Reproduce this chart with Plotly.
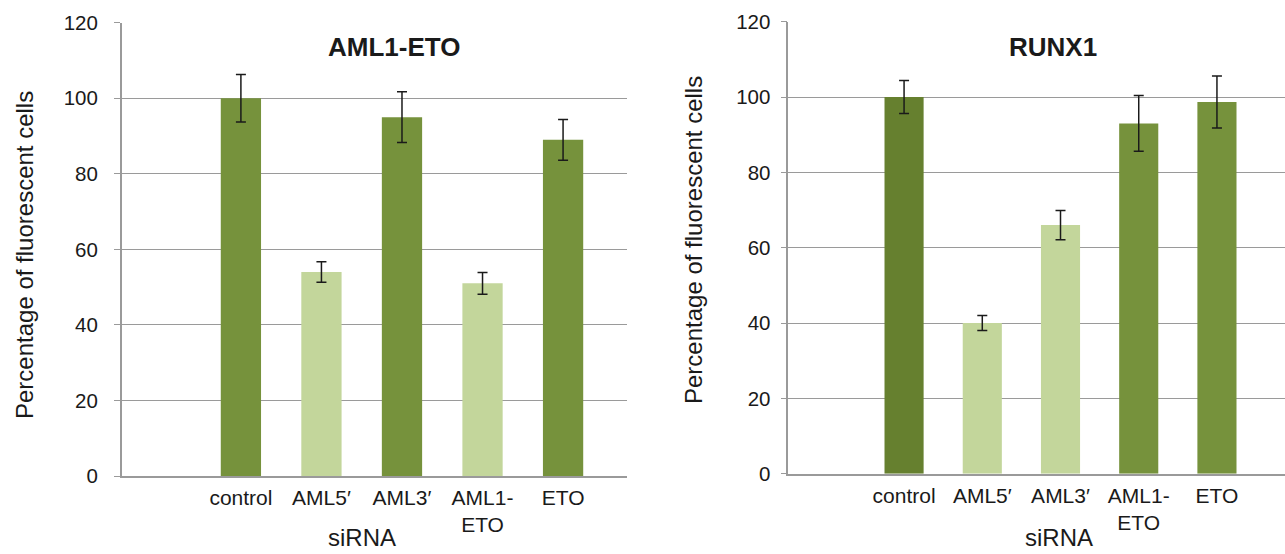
import plotly.graph_objects as go

# siRNA treatments (a blank leading slot keeps the first bar off the axis)
categories = [" ", "control", "AML5′", "AML3′", "AML1-<br>ETO", "ETO"]
bar_cats = categories[1:]

# Percentage of fluorescent cells, AML1-ETO reporter
aml_values = [100, 54, 95, 51, 89]
aml_errors = [6.3, 2.7, 6.7, 2.9, 5.4]

# Percentage of fluorescent cells, RUNX1 reporter
runx_values = [100, 40, 66, 93, 98.7]
runx_errors = [4.4, 2.0, 3.9, 7.4, 6.9]

y_ticks = [0, 20, 40, 60, 80, 100, 120]

DARK = "#76923C"
LIGHT = "#C3D69B"
CONTROL_RUNX = "#66802F"
aml_colors = [DARK, LIGHT, DARK, LIGHT, DARK]
runx_colors = [CONTROL_RUNX, LIGHT, LIGHT, DARK, DARK]

FONT = "Liberation Sans, Arial, sans-serif"
GRID = "#9A9A9A"
W, H = 1285, 554

fig = go.Figure()

err_style = dict(type="data", visible=True, color="#1a1a1a", thickness=1.5, width=5)

fig.add_trace(go.Bar(
    x=bar_cats, y=aml_values, width=0.5,
    marker=dict(color=aml_colors, line=dict(width=0)),
    error_y=dict(array=aml_errors, **err_style),
    xaxis="x", yaxis="y", showlegend=False,
))
fig.add_trace(go.Bar(
    x=bar_cats, y=runx_values, width=0.5,
    marker=dict(color=runx_colors, line=dict(width=0)),
    error_y=dict(array=runx_errors, **err_style),
    xaxis="x2", yaxis="y2", showlegend=False,
))


def xaxis_style(domain, rng):
    return dict(
        domain=domain, type="category", categoryorder="array",
        categoryarray=categories, range=rng, automargin=False,
        showgrid=False, showline=True, linecolor=GRID, linewidth=1.5,
        ticks="", tickfont=dict(family=FONT, size=21, color="#1a1a1a"),
        ticklabelstandoff=2, fixedrange=True,
    )


def yaxis_style(domain, anchor, standoff):
    return dict(
        domain=domain, anchor=anchor, range=[0, 120], automargin=False,
        tickvals=y_ticks, showgrid=True, gridcolor=GRID, gridwidth=1.3,
        zeroline=False, showline=True, linecolor=GRID, linewidth=1.5,
        ticks="outside", ticklen=6, tickcolor=GRID, tickwidth=1.3,
        tickfont=dict(family=FONT, size=20.5, color="#1a1a1a"),
        ticklabelstandoff=standoff, fixedrange=True,
    )


fig.update_layout(
    width=W, height=H,
    margin=dict(l=0, r=0, t=0, b=0, autoexpand=False),
    paper_bgcolor="white", plot_bgcolor="white",
    font=dict(family=FONT, color="#1a1a1a"),
    bargap=0.5,
    xaxis=dict(anchor="y", **xaxis_style([121.7 / W, 626.7 / W], [-0.48, 5.79])),
    yaxis=yaxis_style([1 - 476 / H, 1 - 22.7 / H], "x", 12),
    xaxis2=dict(anchor="y2", **xaxis_style([788.3 / W, 1.0], [-0.48, 5.87])),
    yaxis2=yaxis_style([1 - 473.7 / H, 1 - 21.7 / H], "x2", 6),
)

annotations = [
    # panel titles
    dict(text="<b>AML1-ETO</b>", x=394 / W, y=1 - 46.7 / H, font=dict(size=26),
         bgcolor="white"),
    dict(text="<b>RUNX1</b>", x=1053 / W, y=1 - 46.7 / H, font=dict(size=26),
         bgcolor="white"),
    # y-axis titles
    dict(text="Percentage of fluorescent cells", x=24 / W, y=1 - 255 / H,
         textangle=-90, font=dict(size=24)),
    dict(text="Percentage of fluorescent cells", x=694 / W, y=1 - 240 / H,
         textangle=-90, font=dict(size=24)),
    # x-axis titles, kept fully inside the bottom edge
    dict(text="siRNA", x=362 / W, y=1 / H, font=dict(size=24), yanchor="bottom"),
    dict(text="siRNA", x=1058.5 / W, y=1 / H, font=dict(size=24), yanchor="bottom"),
]
for a in annotations:
    a.setdefault("yanchor", "middle")
    a.update(xref="paper", yref="paper", xanchor="center", showarrow=False)
    a["font"] = dict(family=FONT, color="#1a1a1a", **a["font"])
fig.update_layout(annotations=annotations)

fig.write_html("out.html", config={"displayModeBar": False})
